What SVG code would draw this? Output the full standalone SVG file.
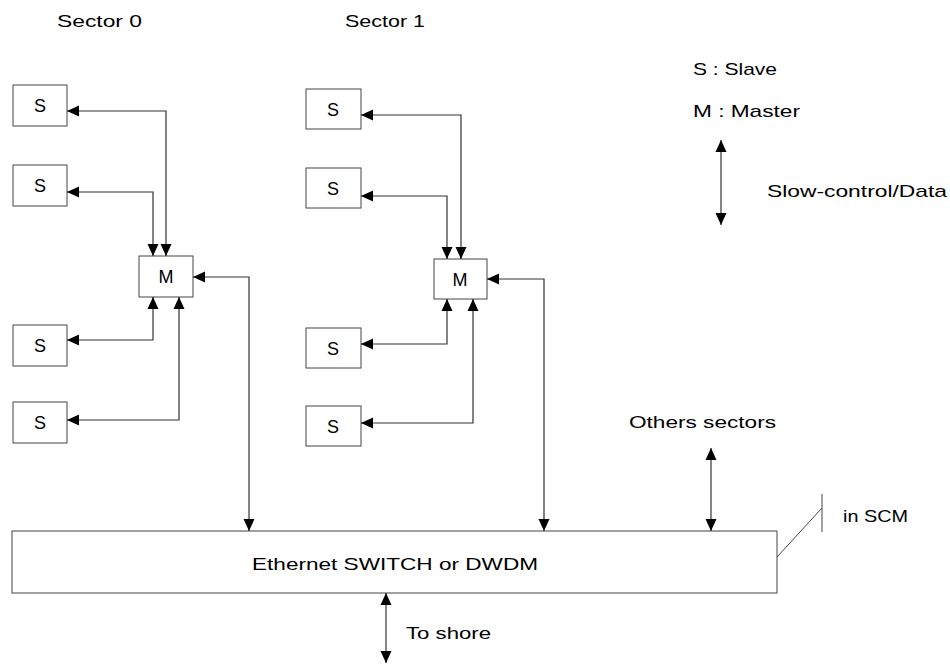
<svg xmlns="http://www.w3.org/2000/svg" width="950" height="664" viewBox="0 0 950 664">
<style>
.box{fill:#fff;stroke:#444;stroke-width:1}
.ln{fill:none;stroke:#333;stroke-width:1.2;marker-start:url(#ah);marker-end:url(#ah)}
.thin{fill:none;stroke:#444;stroke-width:1}
text{font-family:"Liberation Sans",Arial,sans-serif;font-size:17px;fill:#000}
.c{text-anchor:middle;font-size:18px}
</style>
<defs>
<marker id="ah" markerUnits="userSpaceOnUse" markerWidth="13" markerHeight="12" refX="12" refY="5.5" orient="auto-start-reverse" viewBox="0 0 13 11">
<path d="M0,0 L12,5.5 L0,11 z" fill="#000"/>
</marker>
</defs>
<g id="labels">
<text x="57" y="27" textLength="85" lengthAdjust="spacingAndGlyphs">Sector 0</text>
<text x="345" y="27" textLength="80" lengthAdjust="spacingAndGlyphs">Sector 1</text>
</g>
<g id="s0-slave1"><rect class="box" x="13" y="85" width="54" height="41"/><text class="c" x="40" y="112">S</text></g>
<g id="s0-slave2"><rect class="box" x="13" y="165" width="54" height="41"/><text class="c" x="40" y="192">S</text></g>
<g id="s0-master"><rect class="box" x="139" y="256" width="54" height="41"/><text class="c" x="166" y="283">M</text></g>
<g id="s0-slave3"><rect class="box" x="13" y="325" width="54" height="41"/><text class="c" x="40" y="352">S</text></g>
<g id="s0-slave4"><rect class="box" x="13" y="402" width="54" height="41"/><text class="c" x="40" y="429">S</text></g>
<g id="s1-slave1"><rect class="box" x="306" y="89" width="55" height="40"/><text class="c" x="333" y="116">S</text></g>
<g id="s1-slave2"><rect class="box" x="306" y="168" width="55" height="40"/><text class="c" x="333" y="195">S</text></g>
<g id="s1-master"><rect class="box" x="434" y="259" width="53" height="40"/><text class="c" x="460" y="286">M</text></g>
<g id="s1-slave3"><rect class="box" x="306" y="328" width="55" height="40"/><text class="c" x="333" y="355">S</text></g>
<g id="s1-slave4"><rect class="box" x="306" y="406" width="55" height="40"/><text class="c" x="333" y="433">S</text></g>
<g id="switch"><rect class="box" x="12" y="531" width="765" height="62"/><text x="252" y="570" textLength="286" lengthAdjust="spacingAndGlyphs">Ethernet SWITCH or DWDM</text></g>
<g id="legend">
<text x="693" y="75" textLength="84" lengthAdjust="spacingAndGlyphs">S : Slave</text>
<text x="693" y="117" textLength="107" lengthAdjust="spacingAndGlyphs">M : Master</text>
<text x="767" y="197" textLength="180" lengthAdjust="spacingAndGlyphs">Slow-control/Data</text>
</g>
<g id="notes">
<text x="629" y="428" textLength="147" lengthAdjust="spacingAndGlyphs">Others sectors</text>
<text x="843" y="522" textLength="65" lengthAdjust="spacingAndGlyphs">in SCM</text>
<text x="406" y="639" textLength="85" lengthAdjust="spacingAndGlyphs">To shore</text>
<path class="thin" d="M777,557 L822,508 M822,494 V532"/>
</g>
<g id="connectors">
<path class="ln" d="M166,256 V111 H67"/>
<path class="ln" d="M153,256 V192 H67"/>
<path class="ln" d="M193,277 H249 V531"/>
<path class="ln" d="M153,297 V340 H67"/>
<path class="ln" d="M179,297 V420 H67"/>
<path class="ln" d="M461,259 V115 H361"/>
<path class="ln" d="M447,259 V196 H361"/>
<path class="ln" d="M487,279 H544 V531"/>
<path class="ln" d="M447,299 V344 H361"/>
<path class="ln" d="M473,299 V423 H361"/>
<path class="ln" d="M721,140 V225"/>
<path class="ln" d="M711,448 V531"/>
<path class="ln" d="M386,593 V663"/>
</g>
</svg>
